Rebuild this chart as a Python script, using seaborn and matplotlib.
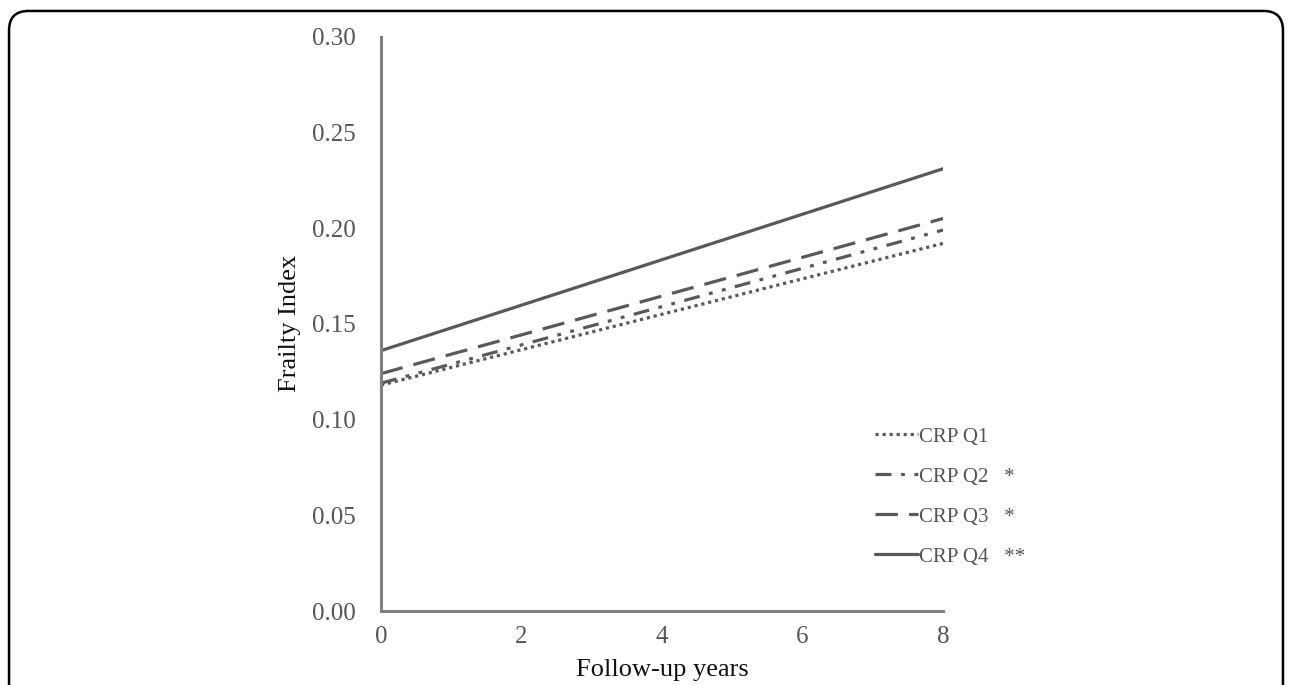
import pandas as pd
import matplotlib.pyplot as plt
import seaborn as sns
from matplotlib.patches import FancyBboxPatch

years = [0, 8]
groups = ["CRP Q1", "CRP Q2", "CRP Q3", "CRP Q4"]
legend_labels = ["CRP Q1", "CRP Q2   *", "CRP Q3   *", "CRP Q4   **"]
q1 = [0.118, 0.192]
q2 = [0.119, 0.199]
q3 = [0.124, 0.205]
q4 = [0.136, 0.231]
x_ticks = [0, 2, 4, 6, 8]
y_ticks = [0.00, 0.05, 0.10, 0.15, 0.20, 0.25, 0.30]

df = pd.DataFrame({
    "year": years * 4,
    "fi": q1 + q2 + q3 + q4,
    "group": [g for g in groups for _ in years],
})

sns.set_theme(style="white")
plt.rcParams["font.family"] = ["Liberation Serif", "DejaVu Serif"]

line_color = "#595959"
spine_color = "#808080"
styles = {
    "CRP Q1": (0, (1.0, 1.2)),
    "CRP Q2": (0, (5, 3, 1.2, 3, 1.2, 3)),
    "CRP Q3": (0, (7, 3.5)),
    "CRP Q4": "-",
}

fig = plt.figure(figsize=(12.92, 6.85), dpi=100)
ax = fig.add_axes([0.2949, 0.108, 0.435, 0.8385])

for g, lab in zip(groups, legend_labels):
    sub = df[df["group"] == g]
    sns.lineplot(data=sub, x="year", y="fi", ax=ax, color=line_color,
                 linestyle=styles[g], linewidth=2.3, label=lab)

ax.set_xlim(0, 8)
ax.set_ylim(0, 0.30)
ax.set_xticks(x_ticks)
ax.set_yticks(y_ticks)
ax.set_yticklabels([f"{v:.2f}" for v in y_ticks])
ax.set_xlabel("Follow-up years", fontsize=19, color="#111111", labelpad=8)
ax.set_ylabel("Frailty Index", fontsize=19, color="#111111", labelpad=8)

for side in ["top", "right"]:
    ax.spines[side].set_visible(False)
for side in ["left", "bottom"]:
    ax.spines[side].set_color(spine_color)
    ax.spines[side].set_linewidth(2.2)
ax.tick_params(axis="both", which="both", direction="out", length=6, width=2,
               color=spine_color, labelsize=18, labelcolor="#555555", pad=5)
ax.tick_params(axis="y", pad=12)

leg = ax.legend(loc="upper left", bbox_to_anchor=(0.6772, 0.3766),
                bbox_transform=fig.transFigure, frameon=False,
                fontsize=15, handlelength=2.05, handletextpad=0.05,
                labelspacing=0.98, borderpad=0, borderaxespad=0,
                labelcolor="#555555")

border = FancyBboxPatch((0.007, -0.05), 0.986, 1.034, boxstyle="round,pad=0,rounding_size=0.015",
                        transform=fig.transFigure, fill=False, edgecolor="black",
                        linewidth=1.8, clip_on=False, mutation_aspect=1292 / 685)
fig.patches.append(border)

fig.savefig("out.png", dpi=100)
